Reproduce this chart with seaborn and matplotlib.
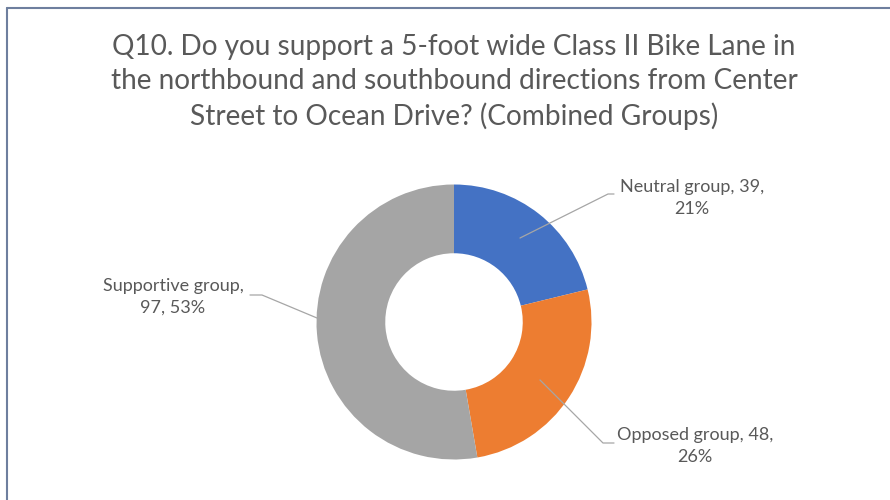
import matplotlib
matplotlib.use("Agg")
import matplotlib.pyplot as plt
import seaborn as sns

categories = ["Neutral group", "Opposed group", "Supportive group"]
counts = [39, 48, 97]
percent_labels = ["21%", "26%", "53%"]
title_text = ("Q10. Do you support a 5-foot wide Class II Bike Lane in\n"
              "the northbound and southbound directions from Center\n"
              "Street to Ocean Drive? (Combined Groups)")

sns.set_theme(style="white")
plt.rcParams["font.family"] = ["Lato", "DejaVu Sans"]

colors = ["#4472C4", "#ED7D31", "#A5A5A5"]
txt_color = "#595959"

W, H = 890, 500
R = 137.5
cx, cy = 454, 322

fig = plt.figure(figsize=(W / 100, H / 100), dpi=100)
ax = fig.add_axes([0, 0, 1, 1])
ax.pie(counts, colors=colors, startangle=90, counterclock=False, radius=1,
       wedgeprops=dict(width=0.5, linewidth=0))
ax.set_xlim(-cx / R, (W - cx) / R)
ax.set_ylim(-(H - cy) / R, cy / R)
ax.set_aspect("equal")
ax.axis("off")


def P(px, py):
    return ((px - cx) / R, (cy - py) / R)


# Title
fig.text(454 / W, 1 - 82 / H, title_text, ha="center", va="center",
         fontsize=20.2, color=txt_color, linespacing=1.38)

# Data labels with leader lines
labels = [
    (f"{categories[0]}, {counts[0]},\n{percent_labels[0]}", (692, 198),
     [(520, 238), (608, 194), (614, 194)]),
    (f"{categories[1]}, {counts[1]},\n{percent_labels[1]}", (695, 446),
     [(540, 380), (603, 443), (614, 443)]),
    (f"{categories[2]},\n{counts[2]}, {percent_labels[2]}", (173, 297),
     [(317, 318), (262, 295), (250, 295)]),
]
for text, (tx, ty), pts in labels:
    x, y = P(tx, ty)
    ax.text(x, y, text, ha="center", va="center", fontsize=13,
            color=txt_color, linespacing=1.45)
    xs = [P(*p)[0] for p in pts]
    ys = [P(*p)[1] for p in pts]
    ax.plot(xs, ys, color="#A6A6A6", linewidth=0.9)

# Frame lines (top and left)
frame_color = "#6E7F9E"
fig.add_artist(plt.Line2D([7 / W, 1.0], [1 - 7.5 / H, 1 - 7.5 / H],
                          transform=fig.transFigure, color=frame_color, linewidth=1.5))
fig.add_artist(plt.Line2D([7 / W, 7 / W], [0, 1 - 7.5 / H],
                          transform=fig.transFigure, color=frame_color, linewidth=1.5))

fig.savefig("out.png", dpi=100, facecolor="white")
